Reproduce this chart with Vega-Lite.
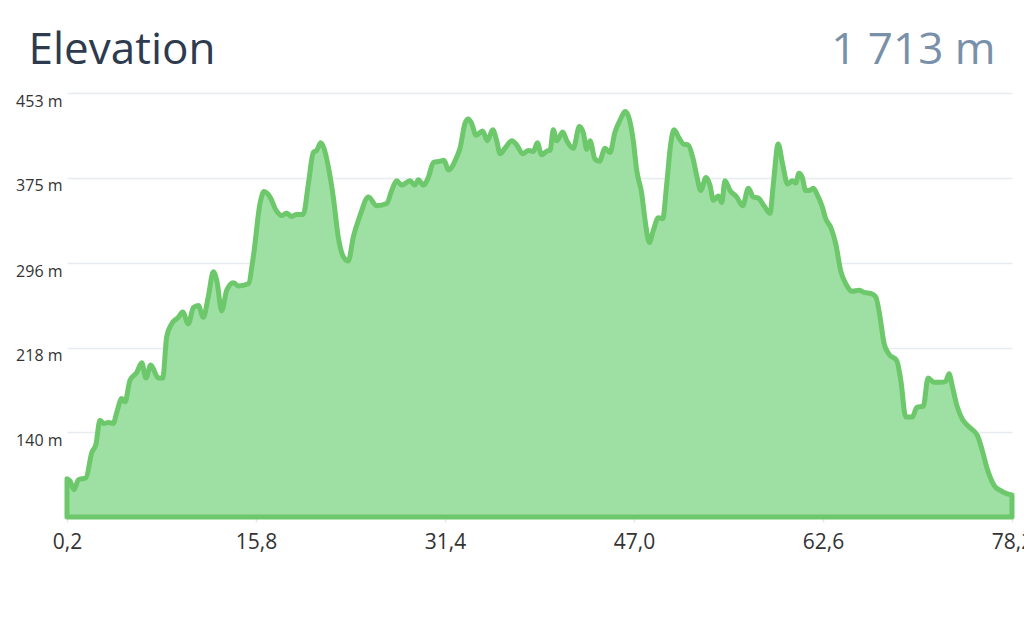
{
  "$schema": "https://vega.github.io/schema/vega-lite/v6.json",
  "autosize": {"type": "none"},
  "padding": {"left": 67, "top": 93, "right": 12, "bottom": 124},
  "width": 945,
  "height": 424,
  "background": "white",
  "data": {
    "values": [
      {"km": 0.2, "elev": 97}, {"km": 0.45, "elev": 95}, {"km": 0.78, "elev": 87}, {"km": 1.13, "elev": 96},
      {"km": 1.77, "elev": 98}, {"km": 2.24, "elev": 121}, {"km": 2.59, "elev": 129}, {"km": 2.92, "elev": 151},
      {"km": 3.25, "elev": 148}, {"km": 3.61, "elev": 149}, {"km": 4.02, "elev": 148}, {"km": 4.3, "elev": 158},
      {"km": 4.72, "elev": 171}, {"km": 4.99, "elev": 168}, {"km": 5.4, "elev": 188}, {"km": 5.95, "elev": 195},
      {"km": 6.37, "elev": 204}, {"km": 6.72, "elev": 190}, {"km": 7.11, "elev": 202}, {"km": 7.74, "elev": 190},
      {"km": 8.1, "elev": 190}, {"km": 8.43, "elev": 228}, {"km": 8.84, "elev": 240}, {"km": 9.39, "elev": 246},
      {"km": 9.75, "elev": 251}, {"km": 10.21, "elev": 240}, {"km": 10.63, "elev": 255}, {"km": 11.04, "elev": 257},
      {"km": 11.45, "elev": 246}, {"km": 11.86, "elev": 265}, {"km": 12.28, "elev": 288}, {"km": 12.56, "elev": 280},
      {"km": 12.97, "elev": 252}, {"km": 13.38, "elev": 271}, {"km": 13.93, "elev": 278}, {"km": 14.34, "elev": 275},
      {"km": 15.16, "elev": 277}, {"km": 15.58, "elev": 302}, {"km": 16.13, "elev": 351}, {"km": 16.46, "elev": 362},
      {"km": 16.96, "elev": 357}, {"km": 17.45, "elev": 345}, {"km": 17.92, "elev": 340}, {"km": 18.33, "elev": 342},
      {"km": 18.75, "elev": 339}, {"km": 19.16, "elev": 341}, {"km": 19.7, "elev": 341}, {"km": 20.12, "elev": 369},
      {"km": 20.53, "elev": 398}, {"km": 20.81, "elev": 400}, {"km": 21.14, "elev": 407}, {"km": 21.41, "elev": 402},
      {"km": 21.77, "elev": 385}, {"km": 22.18, "elev": 357}, {"km": 22.59, "elev": 320}, {"km": 23.01, "elev": 302},
      {"km": 23.42, "elev": 298}, {"km": 23.83, "elev": 320}, {"km": 24.39, "elev": 340}, {"km": 25.07, "elev": 357},
      {"km": 25.76, "elev": 349}, {"km": 26.59, "elev": 351}, {"km": 27.0, "elev": 363}, {"km": 27.41, "elev": 372},
      {"km": 27.83, "elev": 368}, {"km": 28.51, "elev": 372}, {"km": 28.92, "elev": 368}, {"km": 29.2, "elev": 373},
      {"km": 29.61, "elev": 368}, {"km": 30.02, "elev": 375}, {"km": 30.44, "elev": 389}, {"km": 30.99, "elev": 390},
      {"km": 31.32, "elev": 391}, {"km": 31.67, "elev": 382}, {"km": 32.37, "elev": 394}, {"km": 32.64, "elev": 402},
      {"km": 33.05, "elev": 425}, {"km": 33.32, "elev": 429}, {"km": 33.6, "elev": 425}, {"km": 33.96, "elev": 414},
      {"km": 34.51, "elev": 418}, {"km": 34.89, "elev": 409}, {"km": 35.34, "elev": 419}, {"km": 35.67, "elev": 409},
      {"km": 35.94, "elev": 397}, {"km": 36.35, "elev": 402}, {"km": 36.91, "elev": 409}, {"km": 37.32, "elev": 405},
      {"km": 37.81, "elev": 397}, {"km": 38.28, "elev": 400}, {"km": 38.69, "elev": 399}, {"km": 39.02, "elev": 407},
      {"km": 39.38, "elev": 396}, {"km": 39.93, "elev": 400}, {"km": 40.07, "elev": 400}, {"km": 40.34, "elev": 419},
      {"km": 40.62, "elev": 409}, {"km": 41.12, "elev": 417}, {"km": 41.45, "elev": 409}, {"km": 41.99, "elev": 402},
      {"km": 42.49, "elev": 422}, {"km": 42.82, "elev": 416}, {"km": 43.1, "elev": 401}, {"km": 43.37, "elev": 409},
      {"km": 43.78, "elev": 392}, {"km": 44.14, "elev": 390}, {"km": 44.61, "elev": 402}, {"km": 45.02, "elev": 398},
      {"km": 45.43, "elev": 417}, {"km": 45.85, "elev": 428}, {"km": 46.26, "elev": 436}, {"km": 46.53, "elev": 432},
      {"km": 46.94, "elev": 409}, {"km": 47.22, "elev": 382}, {"km": 47.64, "elev": 360}, {"km": 47.91, "elev": 336},
      {"km": 48.26, "elev": 315}, {"km": 48.59, "elev": 326}, {"km": 49.01, "elev": 338}, {"km": 49.37, "elev": 337},
      {"km": 49.7, "elev": 369}, {"km": 50.03, "elev": 406}, {"km": 50.3, "elev": 419}, {"km": 50.74, "elev": 411},
      {"km": 51.07, "elev": 406}, {"km": 51.48, "elev": 405}, {"km": 51.84, "elev": 394}, {"km": 52.17, "elev": 377},
      {"km": 52.51, "elev": 363}, {"km": 52.94, "elev": 375}, {"km": 53.27, "elev": 368}, {"km": 53.55, "elev": 354},
      {"km": 53.96, "elev": 358}, {"km": 54.24, "elev": 352}, {"km": 54.51, "elev": 372}, {"km": 54.93, "elev": 363},
      {"km": 55.48, "elev": 357}, {"km": 55.97, "elev": 349}, {"km": 56.44, "elev": 365}, {"km": 56.85, "elev": 357},
      {"km": 57.26, "elev": 356}, {"km": 57.73, "elev": 349}, {"km": 58.23, "elev": 342}, {"km": 58.5, "elev": 369},
      {"km": 58.9, "elev": 406}, {"km": 59.26, "elev": 388}, {"km": 59.67, "elev": 369}, {"km": 60.07, "elev": 372},
      {"km": 60.35, "elev": 370}, {"km": 60.62, "elev": 379}, {"km": 60.89, "elev": 375}, {"km": 61.17, "elev": 363},
      {"km": 61.45, "elev": 363}, {"km": 61.8, "elev": 365}, {"km": 62.13, "elev": 359}, {"km": 62.54, "elev": 348},
      {"km": 62.82, "elev": 337}, {"km": 63.24, "elev": 329}, {"km": 63.65, "elev": 314}, {"km": 64.06, "elev": 289},
      {"km": 64.48, "elev": 277}, {"km": 65.02, "elev": 270}, {"km": 65.57, "elev": 271}, {"km": 65.99, "elev": 269},
      {"km": 66.54, "elev": 268}, {"km": 66.95, "elev": 265}, {"km": 67.31, "elev": 246}, {"km": 67.64, "elev": 222},
      {"km": 68.05, "elev": 212}, {"km": 68.69, "elev": 206}, {"km": 69.02, "elev": 188}, {"km": 69.43, "elev": 154},
      {"km": 69.97, "elev": 154}, {"km": 70.34, "elev": 163}, {"km": 70.88, "elev": 164}, {"km": 71.27, "elev": 190},
      {"km": 71.77, "elev": 186}, {"km": 72.32, "elev": 186}, {"km": 72.73, "elev": 187}, {"km": 73.0, "elev": 194},
      {"km": 73.28, "elev": 182}, {"km": 73.64, "elev": 165}, {"km": 74.1, "elev": 152}, {"km": 74.65, "elev": 145},
      {"km": 75.34, "elev": 137}, {"km": 75.75, "elev": 123}, {"km": 76.16, "elev": 106}, {"km": 76.72, "elev": 91},
      {"km": 77.27, "elev": 86}, {"km": 77.82, "elev": 83}, {"km": 78.2, "elev": 82}
    ]
  },
  "encoding": {
    "y": {
      "field": "elev", "type": "quantitative",
      "scale": {"domain": [61.75, 453], "nice": false, "zero": false},
      "axis": {
        "values": [140, 218, 296, 375, 453],
        "labelExpr": "datum.value + ' m'",
        "title": "Elevation", "titleFont": "Open Sans", "titleFontSize": 44,
        "titleFontWeight": "normal", "titleColor": "#2e3b4e",
        "titleAngle": 0, "titleAlign": "left", "titleBaseline": "alphabetic",
        "titleX": -39, "titleY": -30,
        "domain": false, "ticks": false,
        "grid": true, "gridColor": "#e8ebf0", "gridWidth": 1.5,
        "labelBaseline": "top", "labelPadding": 5, "labelFontSize": 16,
        "labelColor": "#333333", "labelFont": "Open Sans", "labelFlush": false
      }
    },
    "y2": {"datum": 61.75}
  },
  "layer": [
    {
      "mark": {"type": "area", "color": "#9edfa3", "opacity": 1, "interpolate": "monotone"},
      "encoding": {
        "x": {
          "field": "km", "type": "quantitative",
          "scale": {"domain": [0.2, 78.2], "nice": false, "zero": false},
          "axis": {
            "values": [0.2, 15.8, 31.4, 47.0, 62.6, 78.2],
            "labelExpr": "replace(format(datum.value, '.1f'), '.', ',')",
            "title": null, "domain": false, "grid": false,
            "ticks": true, "tickSize": 5, "tickColor": "#e3e7ec", "tickWidth": 1.5,
            "labelPadding": 9, "labelFontSize": 21, "labelColor": "#333333",
            "labelFont": "Open Sans", "labelFlush": false, "labelOverlap": false
          }
        }
      }
    },
    {
      "mark": {"type": "area", "fill": "transparent", "stroke": "#6cc86a", "strokeWidth": 5, "strokeJoin": "round", "interpolate": "monotone"},
      "encoding": {
        "x": {
          "field": "km", "type": "quantitative",
          "scale": {"domain": [0.2, 78.2], "nice": false, "zero": false},
          "axis": {
            "orient": "top", "labels": false, "ticks": false, "domain": false, "grid": false,
            "title": "1 713 m", "titleFont": "Open Sans", "titleFontSize": 44,
            "titleFontWeight": "normal", "titleColor": "#7890a8",
            "titleAlign": "right", "titleBaseline": "alphabetic",
            "titleX": 928, "titleY": -30, "titleAngle": 0
          }
        }
      }
    }
  ],
  "resolve": {"axis": {"x": "independent"}},
  "config": {"view": {"stroke": null}}
}
